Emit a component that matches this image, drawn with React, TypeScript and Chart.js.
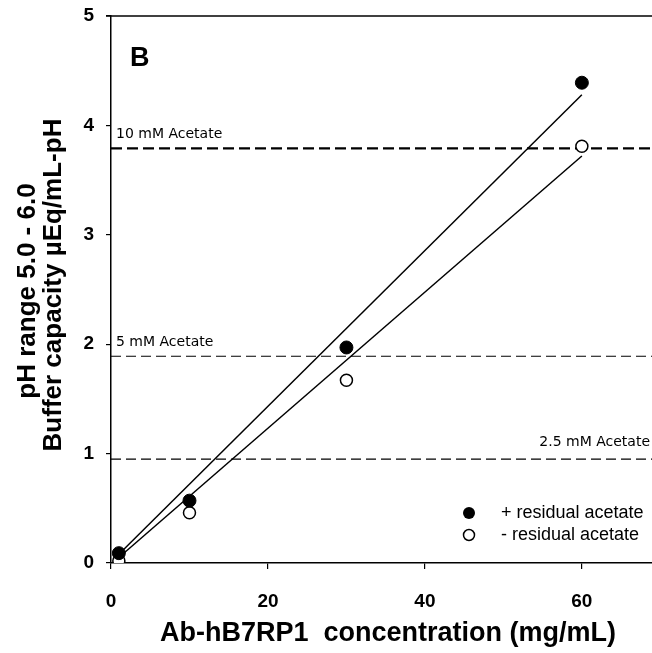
import React, { useEffect, useRef } from "react";
import { Chart, registerables } from "chart.js";

Chart.register(...registerables);

// Data
const concentrations = [1, 10, 30, 60];
const plusResidual = [0.09, 0.57, 1.97, 4.39];
const minusResidual = [0.02, 0.46, 1.67, 3.81];

// Fitted lines (end points)
const fitX = [1, 60];
const fitPlusY = [0.08, 4.28];
const fitMinusY = [0.05, 3.72];

// Reference acetate levels
const refLabels = ["10 mM Acetate", "5 mM Acetate", "2.5 mM Acetate"];
const refValues = [3.79, 1.89, 0.95];

const xTicks = [0, 20, 40, 60];
const xRange = [0, 69];
const yRange = [0, 5];

const legendLabels = ["+ residual acetate", "- residual acetate"];

const FONT = "'Liberation Sans', Arial, sans-serif";

export default function App() {
  const ref = useRef<HTMLCanvasElement | null>(null);

  useEffect(() => {
    if (!ref.current) return;
    const pts = (ys: number[]) => concentrations.map((x, i) => ({ x, y: ys[i] }));
    const fit = (ys: number[]) => fitX.map((x, i) => ({ x, y: ys[i] }));

    const refDatasets = refValues.map((v, i) => ({
      type: "line" as const,
      label: refLabels[i],
      data: [
        { x: xRange[0], y: v },
        { x: xRange[1], y: v },
      ],
      borderColor: "#000",
      borderWidth: i === 0 ? 2.4 : 1.2,
      borderDash: i === 0 ? [11, 5] : [10, 5],
      pointRadius: 0,
      showLine: true,
      fill: false,
      order: 2,
    }));

    const overlay = {
      id: "overlay",
      afterDraw(chart: any) {
        const ctx = chart.ctx;
        const { left, right, top } = chart.chartArea;
        const ys = chart.scales.y;
        ctx.save();
        // top spine
        ctx.strokeStyle = "#000";
        ctx.lineWidth = 1.5;
        ctx.beginPath();
        ctx.moveTo(left - 5, top);
        ctx.lineTo(right, top);
        ctx.stroke();

        // panel label
        ctx.fillStyle = "#000";
        ctx.font = `bold 27px ${FONT}`;
        ctx.textAlign = "left";
        ctx.textBaseline = "alphabetic";
        ctx.fillText("B", 130, 66);

        // reference labels
        ctx.font = `14px 'DejaVu Sans', sans-serif`;
        ctx.textBaseline = "alphabetic";
        ctx.textAlign = "left";
        ctx.fillText(refLabels[0], left + 5, ys.getPixelForValue(refValues[0]) - 10);
        ctx.fillText(refLabels[1], left + 5, ys.getPixelForValue(refValues[1]) - 10);
        ctx.textAlign = "right";
        ctx.fillText(refLabels[2], 650, ys.getPixelForValue(refValues[2]) - 13);

        // legend
        ctx.font = `18px ${FONT}`;
        ctx.textAlign = "left";
        ctx.textBaseline = "middle";
        const lx = 469;
        const ly = [513, 535];
        ctx.beginPath();
        ctx.arc(lx, ly[0], 6, 0, Math.PI * 2);
        ctx.fillStyle = "#000";
        ctx.fill();
        ctx.beginPath();
        ctx.arc(lx, ly[1], 5.5, 0, Math.PI * 2);
        ctx.fillStyle = "#fff";
        ctx.fill();
        ctx.lineWidth = 1.5;
        ctx.strokeStyle = "#000";
        ctx.stroke();
        ctx.fillStyle = "#000";
        ctx.fillText(legendLabels[0], 501, ly[0]);
        ctx.fillText(legendLabels[1], 501, ly[1]);

        // axis titles
        ctx.font = `bold 27px ${FONT}`;
        ctx.textAlign = "center";
        ctx.textBaseline = "middle";
        ctx.fillText("Ab-hB7RP1  concentration (mg/mL)", 388, 634);

        ctx.save();
        ctx.translate(28, 291);
        ctx.rotate(-Math.PI / 2);
        ctx.font = `bold 26px ${FONT}`;
        ctx.fillText("pH range 5.0 - 6.0", 0, 0);
        ctx.restore();
        ctx.save();
        ctx.translate(54, 285);
        ctx.rotate(-Math.PI / 2);
        ctx.font = `bold 26px ${FONT}`;
        ctx.fillText("Buffer capacity \u00b5Eq/mL-pH", 0, 0);
        ctx.restore();

        ctx.restore();
      },
    };

    const chart = new Chart(ref.current, {
      type: "scatter",
      data: {
        datasets: [
          {
            label: legendLabels[0],
            data: pts(plusResidual),
            backgroundColor: "#000",
            borderColor: "#000",
            pointRadius: 6.5,
            pointBorderWidth: 1,
            order: 0,
          },
          {
            label: legendLabels[1],
            data: pts(minusResidual),
            backgroundColor: "#fff",
            borderColor: "#000",
            pointRadius: 6,
            pointBorderWidth: 1.5,
            order: 0,
          },
          {
            type: "line",
            label: "fit +",
            data: fit(fitPlusY),
            borderColor: "#000",
            borderWidth: 1.5,
            pointRadius: 0,
            showLine: true,
            fill: false,
            order: 1,
          },
          {
            type: "line",
            label: "fit -",
            data: fit(fitMinusY),
            borderColor: "#000",
            borderWidth: 1.5,
            pointRadius: 0,
            showLine: true,
            fill: false,
            order: 1,
          },
          ...refDatasets,
        ] as any,
      },
      options: {
        animation: false,
        responsive: false,
        maintainAspectRatio: false,
        layout: { padding: { top: 16, left: 0, right: 0, bottom: 0 } },
        plugins: {
          legend: { display: false },
          tooltip: { enabled: false },
        },
        scales: {
          x: {
            type: "linear",
            min: xRange[0],
            max: xRange[1],
            afterFit: (s: any) => {
              s.height = 90;
              s.paddingLeft = 0;
              s.paddingRight = 0;
            },
            afterBuildTicks: (s: any) => {
              s.ticks = xTicks.map((v) => ({ value: v }));
            },
            ticks: {
              stepSize: 20,
              color: "#000",
              font: { family: FONT, size: 19, weight: "bold" },
              padding: 21,
              maxRotation: 0,
            },
            grid: {
              display: true,
              drawOnChartArea: false,
              drawTicks: true,
              tickLength: 6,
              color: "#000",
              lineWidth: 1.2,
            },
            border: { display: true, color: "#000", width: 1.5 },
          },
          y: {
            type: "linear",
            min: yRange[0],
            max: yRange[1],
            afterFit: (s: any) => {
              s.width = 111;
              s.paddingTop = 0;
              s.paddingBottom = 0;
            },
            ticks: {
              stepSize: 1,
              color: "#000",
              font: { family: FONT, size: 19, weight: "bold" },
              padding: 12,
            },
            grid: {
              display: true,
              drawOnChartArea: false,
              drawTicks: true,
              tickLength: 5,
              color: "#000",
              lineWidth: 1.2,
            },
            border: { display: true, color: "#000", width: 1.5 },
          },
        },
      } as any,
      plugins: [overlay],
    });
    return () => chart.destroy();
  }, []);

  return (
    <div
      style={{
        position: "fixed",
        left: 0,
        top: 0,
        width: 652,
        height: 653,
        overflow: "hidden",
        background: "#fff",
      }}
    >
      <canvas ref={ref} width={660} height={653} style={{ display: "block" }} />
    </div>
  );
}
